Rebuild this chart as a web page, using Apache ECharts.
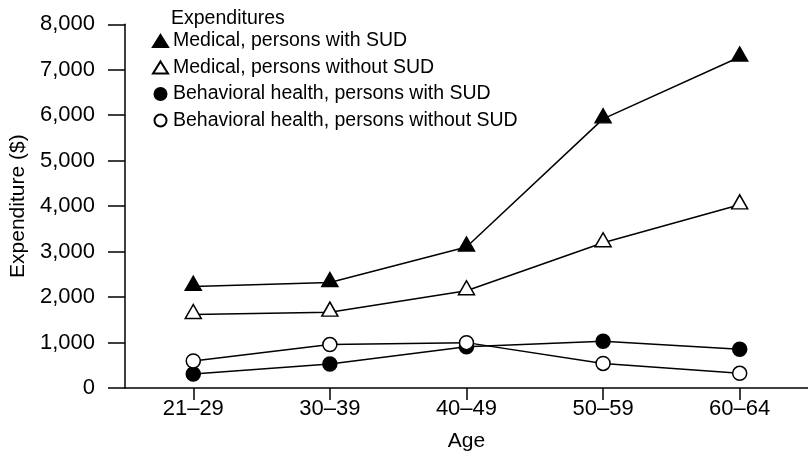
<!DOCTYPE html>
<html>
<head>
<meta charset="utf-8">
<script src="https://cdn.jsdelivr.net/npm/echarts@6/dist/echarts.min.js"></script>
<style>
  html, body { margin: 0; padding: 0; background: #fff; }
  #chart { width: 808px; height: 457px; }
</style>
</head>
<body>
<div id="chart"></div>
<script>
const ages = ['21–29', '30–39', '40–49', '50–59', '60–64']
const yTicks = [0, 1000, 2000, 3000, 4000, 5000, 6000, 7000, 8000]

const medicalWithSud = [2235, 2320, 3100, 5920, 7280]
const medicalWithoutSud = [1617, 1668, 2140, 3194, 4029]
const behavioralWithSud = [309, 527, 905, 1029, 854]
const behavioralWithoutSud = [593, 955, 998, 541, 323]

const seriesNames = [
  'Medical, persons with SUD',
  'Medical, persons without SUD',
  'Behavioral health, persons with SUD',
  'Behavioral health, persons without SUD'
]

const font = '"Liberation Sans", Arial, Helvetica, sans-serif'
const ink = '#000'

const chart = echarts.init(document.getElementById('chart'), null, { renderer: 'canvas' })

const lineSeries = (name, data, symbol, filled, size, offset, z) => ({
  name,
  type: 'line',
  data,
  symbol,
  symbolSize: size,
  symbolOffset: offset,
  showAllSymbol: true,
  lineStyle: { color: ink, width: 1.5 },
  itemStyle: {
    color: filled ? ink : '#fff',
    borderColor: ink,
    borderWidth: 1.5,
    opacity: 1
  },
  emphasis: { disabled: true },
  animation: false,
  z
})

const option = {
  backgroundColor: '#fff',
  animation: false,
  title: {
    text: 'Expenditures',
    left: 171,
    top: 9,
    padding: 0,
    textStyle: { fontFamily: font, fontSize: 19.5, fontWeight: 'normal', color: ink }
  },
  legend: {
    orient: 'vertical',
    left: 152,
    top: 31,
    padding: 0,
    itemWidth: 15,
    itemHeight: 12,
    itemGap: 6.5,
    textStyle: { fontFamily: font, fontSize: 19.5, color: ink, lineHeight: 20 },
    data: [
      { name: seriesNames[0], icon: 'triangle' },
      { name: seriesNames[1], icon: 'triangle' },
      { name: seriesNames[2], icon: 'circle' },
      { name: seriesNames[3], icon: 'circle' }
    ],
    selectedMode: false
  },
  grid: { left: 124, top: 24.3, width: 689, height: 367.3, containLabel: false },
  xAxis: {
    type: 'category',
    data: ages,
    boundaryGap: true,
    name: 'Age',
    nameLocation: 'middle',
    nameGap: 43,
    nameTextStyle: { fontFamily: font, fontSize: 21, color: ink },
    axisLine: { show: true, lineStyle: { color: ink, width: 1.5 } },
    axisTick: { show: true, alignWithLabel: true, length: 12, lineStyle: { color: ink, width: 1.5 } },
    axisLabel: { fontFamily: font, fontSize: 22, color: ink, margin: 10 },
    splitLine: { show: false }
  },
  yAxis: {
    type: 'value',
    min: yTicks[0],
    max: yTicks[yTicks.length - 1],
    interval: yTicks[1] - yTicks[0],
    name: 'Expenditure ($)',
    nameLocation: 'middle',
    nameGap: 95,
    nameTextStyle: { fontFamily: font, fontSize: 21, color: ink },
    axisLine: { show: true, lineStyle: { color: ink, width: 1.5 } },
    axisTick: { show: true, length: 17, lineStyle: { color: ink, width: 1.5 } },
    axisLabel: {
      fontFamily: font,
      fontSize: 22,
      color: ink,
      margin: 30,
      formatter: (v) => v.toLocaleString('en-US')
    },
    splitLine: { show: false }
  },
  series: [
    lineSeries(seriesNames[0], medicalWithSud, 'triangle', true, [16, 14], [0, -3], 4),
    lineSeries(seriesNames[1], medicalWithoutSud, 'triangle', false, [16, 14], [0, -3], 3),
    lineSeries(seriesNames[2], behavioralWithSud, 'circle', true, 14, [0, 0], 2),
    lineSeries(seriesNames[3], behavioralWithoutSud, 'circle', false, 14, [0, 0], 5)
  ]
}

chart.setOption(option)
</script>
</body>
</html>
